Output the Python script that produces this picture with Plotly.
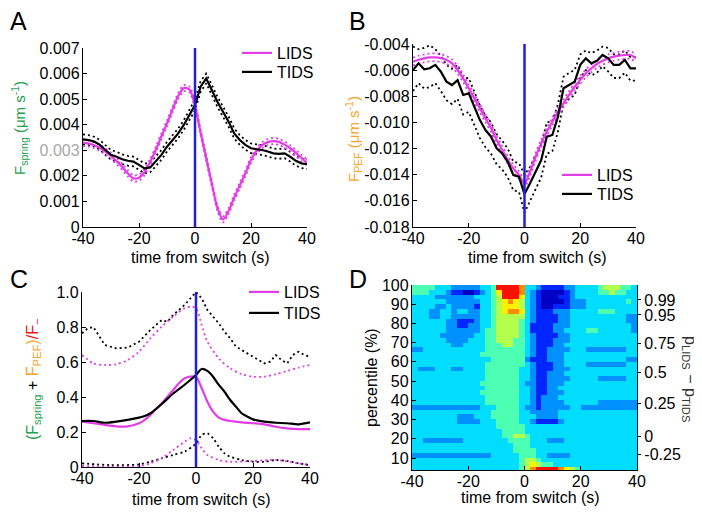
import plotly.graph_objects as go

W, H = 702, 512
OFF = 8  # the page body margin places the figure 8 px in from the window corner
FONT = "Liberation Sans, Arial, Helvetica, sans-serif"
MAGENTA = "#e23de6"
BLUE = "#2020dc"
GREEN = "#22a04b"
ORANGE = "#f5a52a"
RED = "#e3171d"

# ---------------- data ----------------
time_s = list(range(-40, 41, 2))

# Panel A: F_spring, units of 0.001 um/s
a_lids = [3.30, 3.26, 3.20, 3.10, 2.95, 2.78, 2.57, 2.35, 2.10, 1.90, 1.93, 2.15, 2.55, 3.02, 3.55, 4.05, 4.60, 5.12, 5.43, 5.38,
          4.75, 3.70, 2.70, 1.70, 0.75, 0.30, 0.62, 1.15, 1.62, 2.10, 2.62, 2.98, 3.20, 3.32, 3.36, 3.33, 3.22, 3.08, 2.90, 2.70, 2.52]
a_lids_hi = [3.43, 3.38, 3.32, 3.22, 3.07, 2.90, 2.69, 2.47, 2.22, 2.02, 2.05, 2.27, 2.67, 3.14, 3.67, 4.17, 4.72, 5.24, 5.55, 5.50,
             4.87, 3.82, 2.82, 1.82, 0.87, 0.42, 0.74, 1.27, 1.74, 2.22, 2.74, 3.10, 3.32, 3.44, 3.48, 3.45, 3.34, 3.20, 3.02, 2.82, 2.64]
a_lids_lo = [3.17, 3.14, 3.08, 2.98, 2.83, 2.66, 2.45, 2.23, 1.98, 1.78, 1.81, 2.03, 2.43, 2.90, 3.43, 3.93, 4.48, 5.00, 5.31, 5.26,
             4.63, 3.58, 2.58, 1.58, 0.63, 0.18, 0.50, 1.03, 1.50, 1.98, 2.50, 2.86, 3.08, 3.20, 3.24, 3.21, 3.10, 2.96, 2.78, 2.58, 2.40]
a_tids = [3.43, 3.40, 3.34, 3.21, 3.01, 2.82, 2.75, 2.65, 2.59, 2.56, 2.43, 2.29, 2.33, 2.56, 2.82, 3.14, 3.40, 3.66, 3.99, 4.38,
          4.77, 5.49, 5.81, 5.36, 4.90, 4.51, 4.12, 3.66, 3.40, 3.21, 3.08, 3.04, 3.01, 2.95, 2.88, 2.86, 2.88, 2.75, 2.59, 2.49, 2.46]
a_tids_hi = [3.62, 3.59, 3.53, 3.40, 3.20, 3.01, 2.94, 2.84, 2.78, 2.75, 2.62, 2.48, 2.52, 2.75, 3.01, 3.33, 3.59, 3.85, 4.18, 4.58,
             4.98, 5.70, 6.00, 5.56, 5.10, 4.71, 4.32, 3.86, 3.59, 3.40, 3.27, 3.23, 3.20, 3.14, 3.07, 3.05, 3.07, 2.94, 2.78, 2.68, 2.65]
a_tids_lo = [3.24, 3.21, 3.15, 3.02, 2.82, 2.63, 2.56, 2.46, 2.40, 2.37, 2.24, 2.10, 2.14, 2.37, 2.63, 2.95, 3.21, 3.47, 3.80, 4.18,
             4.56, 5.28, 5.62, 5.16, 4.70, 4.31, 3.92, 3.46, 3.21, 3.02, 2.89, 2.85, 2.82, 2.76, 2.69, 2.67, 2.69, 2.56, 2.40, 2.30, 2.27]

# Panel B: F_PEF, units of 0.001 um/s
b_lids = [-5.35, -5.20, -5.10, -5.03, -5.02, -5.08, -5.22, -5.48, -5.99, -6.63, -7.39, -8.16, -8.92, -9.69, -10.45, -11.35, -12.11, -12.88, -13.52, -14.03,
          -14.66, -13.77, -12.62, -11.60, -10.71, -9.94, -9.18, -8.54, -7.90, -7.27, -6.76, -6.24, -5.86, -5.53, -5.28, -5.10, -4.97, -4.89, -4.84, -4.84, -5.10]
b_lids_hi = [-5.05, -4.90, -4.80, -4.73, -4.72, -4.78, -4.92, -5.18, -5.69, -6.33, -7.09, -7.86, -8.62, -9.39, -10.15, -11.05, -11.81, -12.58, -13.22, -13.73,
             -14.36, -13.47, -12.32, -11.30, -10.41, -9.64, -8.88, -8.24, -7.60, -6.97, -6.46, -5.94, -5.56, -5.23, -4.98, -4.80, -4.67, -4.59, -4.54, -4.54, -4.80]
b_lids_lo = [-5.65, -5.50, -5.40, -5.33, -5.32, -5.38, -5.52, -5.78, -6.29, -6.93, -7.69, -8.46, -9.22, -9.99, -10.75, -11.65, -12.41, -13.18, -13.82, -14.33,
             -14.96, -14.07, -12.92, -11.90, -11.01, -10.24, -9.48, -8.84, -8.20, -7.57, -7.06, -6.54, -6.16, -5.83, -5.58, -5.40, -5.27, -5.19, -5.14, -5.14, -5.40]
b_tids = [-5.99, -5.48, -5.94, -5.86, -5.60, -6.12, -6.88, -7.14, -6.76, -7.90, -7.78, -8.80, -9.82, -10.58, -11.09, -11.98, -12.37, -13.01, -14.03, -14.15,
          -15.48, -14.66, -13.77, -12.88, -11.09, -10.96, -9.56, -7.39, -7.14, -6.88, -5.60, -5.10, -5.48, -5.28, -4.84, -5.10, -5.60, -5.60, -5.22, -5.86, -5.86]
b_tids_hi = [-4.20, -4.40, -4.30, -4.10, -4.40, -4.90, -5.60, -5.90, -5.60, -6.60, -6.60, -7.60, -8.70, -9.50, -10.00, -10.90, -11.40, -12.00, -13.00, -13.10,
             -14.00, -13.40, -12.50, -11.70, -10.00, -9.90, -8.60, -6.50, -6.20, -6.00, -4.80, -4.50, -4.70, -4.50, -4.20, -4.30, -4.80, -4.80, -4.50, -5.00, -5.00]
b_tids_lo = [-7.60, -7.00, -7.40, -7.30, -7.00, -7.60, -8.30, -8.60, -8.20, -9.40, -9.20, -10.20, -11.20, -11.90, -12.40, -13.20, -13.60, -14.20, -15.20, -15.30,
             -16.90, -16.00, -15.10, -14.20, -12.40, -12.20, -10.70, -8.50, -8.20, -7.90, -6.60, -6.00, -6.40, -6.20, -5.70, -6.10, -6.60, -6.60, -6.20, -6.80, -6.80]

# Panel C: (F_spring + F_PEF)/F_-
c_lids_t = [-40, -36, -32, -28, -24, -20, -18, -16, -14, -12, -10, -8, -6, -4, -2, 0, 2, 4, 6, 8, 10, 12, 14, 16, 20, 24, 28, 32, 36, 40]
c_lids = [0.259, 0.25, 0.24, 0.232, 0.232, 0.25, 0.269, 0.297, 0.331, 0.364, 0.402, 0.44, 0.478, 0.507, 0.516, 0.516,
          0.45, 0.373, 0.316, 0.282, 0.269, 0.263, 0.259, 0.255, 0.25, 0.244, 0.23, 0.221, 0.217, 0.217]
c_tids_t = [-40, -36, -32, -28, -24, -20, -18, -16, -12, -8, -4, -2, 0, 2, 4, 6, 8, 10, 12, 14, 16, 18, 20, 24, 28, 32, 36, 40]
c_tids = [0.263, 0.263, 0.253, 0.259, 0.269, 0.282, 0.291, 0.307, 0.36, 0.42, 0.47, 0.497, 0.526, 0.56, 0.549, 0.516,
          0.469, 0.43, 0.383, 0.345, 0.307, 0.288, 0.272, 0.259, 0.253, 0.25, 0.244, 0.255]
c_tids_hi_t = [-40, -38, -36, -34, -32, -28, -24, -20, -16, -12, -10, -8, -4, 0, 2, 4, 6, 8, 10, 12, 14, 16, 20, 24, 26, 28, 30, 32, 34, 36, 38, 40]
c_tids_hi = [0.764, 0.792, 0.80, 0.745, 0.697, 0.678, 0.682, 0.716, 0.783, 0.84, 0.83, 0.869, 0.926, 1.0, 0.964, 0.897,
             0.859, 0.821, 0.773, 0.735, 0.688, 0.669, 0.63, 0.592, 0.602, 0.64, 0.611, 0.592, 0.64, 0.659, 0.64, 0.63]
c_lids_hi_t = [-40, -36, -32, -28, -24, -20, -16, -12, -8, -4, -2, 0, 2, 4, 8, 12, 16, 20, 24, 28, 32, 36, 40]
c_lids_hi = [0.64, 0.592, 0.583, 0.587, 0.611, 0.659, 0.735, 0.802, 0.859, 0.907, 0.916, 0.907, 0.811, 0.716, 0.621,
             0.564, 0.53, 0.516, 0.516, 0.53, 0.549, 0.568, 0.583]
c_tids_lo_t = [-40, -30, -20, -16, -12, -8, -4, 0, 2, 4, 6, 8, 10, 12, 16, 20, 24, 28, 32, 36, 40]
c_tids_lo = [0.021, 0.011, 0.015, 0.03, 0.05, 0.069, 0.088, 0.135, 0.183, 0.192, 0.164, 0.116, 0.078, 0.059, 0.04,
             0.03, 0.03, 0.04, 0.034, 0.021, 0.011]
c_lids_lo_t = [-40, -30, -20, -16, -12, -8, -4, -2, 0, 2, 4, 8, 12, 20, 28, 36, 40]
c_lids_lo = [0.006, 0.002, 0.006, 0.021, 0.05, 0.097, 0.145, 0.164, 0.154, 0.107, 0.069, 0.04, 0.03, 0.034, 0.04, 0.021, 0.011]

# Panel D: heat map levels (0 = dark blue ... 9 = dark red), rows from top (100 %) to bottom
d_time_bins = list(range(-39, 40, 2))
d_percentile_bins = [3.75 + 2.5 * i for i in range(39)]
d_level_values = [0.06, 0.15, 0.26, 0.34, 0.45, 0.55, 0.64, 0.74, 0.86, 0.95]
d_rows_top_to_bottom = [
    "4444333222223348888733211112233334555443",
    "4443332110012346888732100001233334454433",
    "3333222222233345888632100011233333333333",
    "3333332222223345676532100001222333333343",
    "3333223222213345666532100111222333333333",
    "3332233233223345677632111222333334443333",
    "3332233222223345555532111122333333333322",
    "3333332211123345555432111122333333333322",
    "3333332211223345555431111222333333333332",
    "3333332222223445555431111223333443333332",
    "3333322222233445555432111122333333333333",
    "3333332222333445554432111222333333333333",
    "3333333223333444554432111223333333333333",
    "2233333333333444444432112222333222222233",
    "3333333333334444444432112223333333333333",
    "3333333333333344444421112223333333333322",
    "3333333333333444444432111223333222222233",
    "3222333223333444444332111222333333333333",
    "3333333333333444444332112223333333333333",
    "3333333333333444444332112222333332222233",
    "3333333333334444444322112223333333333333",
    "3333333333333444444332112233333333333333",
    "3333333333334444444332112223333333333333",
    "3333333333333444444332122233333333333333",
    "3333333333333444444332122223333332222222",
    "2222222222223334444322122222332222222222",
    "3333333333333344444332222233333333333333",
    "3333333322233344444333222233333333333333",
    "3333333322223334444332111123333333333333",
    "3333333333333334444433333333333333333333",
    "3333333333333333444433333333333333333333",
    "3333333333333333445543333333333333333333",
    "3322222223333333344443332223333333333333",
    "3333333333333333334443333333333333333333",
    "3333333333333333334444333333333333333333",
    "2222222222222233333444332222333333333333",
    "3333333333333333333455433333333333333333",
    "3333333333333333333456544333333333333333",
    "3333333333333333333457888876543333333333",
]

time_ticks = [-40, -20, 0, 20, 40]
time_ticktext = ["-40", "-20", "0", "20", "40"]
a_tickvals = [0, 1, 2, 3, 4, 5, 6, 7]
a_ticktext = ["0", "0.001", "0.002", "<span style='color:#a8a8a8'>0.003</span>", "0.004", "0.005", "0.006", "0.007"]
b_tickvals = [-18, -16, -14, -12, -10, -8, -6, -4]
b_ticktext = ["-0.018", "-0.016", "-0.014", "-0.012", "-0.010", "-0.008", "-0.006", "-0.004"]
c_tickvals = [0, 0.2, 0.4, 0.6, 0.8, 1.0]
c_ticktext = ["0", "0.2", "0.4", "0.6", "0.8", "1.0"]
d_tickvals = [10, 20, 30, 40, 50, 60, 70, 80, 90, 100]
d_right_tickvals = [92.2, 84.4, 69.8, 54.7, 38.5, 21.4, 12.0]
d_right_ticktext = ["0.99", "0.95", "0.75", "0.5", "0.25", "0", "-0.25"]

# ---------------- figure ----------------
def px(x):
    return (x - OFF) / W


def py(y):
    return 1 - (y - OFF) / H


fig = go.Figure()


def add_line(x, y, xa, ya, color, dotted=False, name=None, legend=None, shape="linear"):
    fig.add_trace(go.Scatter(
        x=x, y=y, xaxis=xa, yaxis=ya, mode="lines",
        line=dict(color=color, width=1.8 if dotted else 2.2,
                  dash="2px,3px" if dotted else "solid", shape=shape, smoothing=0.8),
        name=name, showlegend=name is not None, legend=legend, hoverinfo="skip"))


# Panel A
add_line(time_s, a_tids_hi, "x", "y", "black", True)
add_line(time_s, a_tids_lo, "x", "y", "black", True)
add_line(time_s, a_lids_hi, "x", "y", MAGENTA, True, shape="spline")
add_line(time_s, a_lids_lo, "x", "y", MAGENTA, True, shape="spline")
add_line(time_s, a_lids, "x", "y", MAGENTA, name="LIDS", legend="legend", shape="spline")
add_line(time_s, a_tids, "x", "y", "black", name="TIDS", legend="legend2")

# Panel B
add_line(time_s, b_tids_hi, "x2", "y2", "black", True)
add_line(time_s, b_tids_lo, "x2", "y2", "black", True)
add_line(time_s, b_lids_hi, "x2", "y2", MAGENTA, True, shape="spline")
add_line(time_s, b_lids_lo, "x2", "y2", MAGENTA, True, shape="spline")
add_line(time_s, b_lids, "x2", "y2", MAGENTA, name="LIDS", legend="legend3", shape="spline")
add_line(time_s, b_tids, "x2", "y2", "black", name="TIDS", legend="legend4")

# Panel C
add_line(c_tids_hi_t, c_tids_hi, "x3", "y3", "black", True)
add_line(c_tids_lo_t, c_tids_lo, "x3", "y3", "black", True, shape="spline")
add_line(c_lids_hi_t, c_lids_hi, "x3", "y3", MAGENTA, True, shape="spline")
add_line(c_lids_lo_t, c_lids_lo, "x3", "y3", MAGENTA, True, shape="spline")
add_line(c_lids_t, c_lids, "x3", "y3", MAGENTA, name="LIDS", legend="legend5", shape="spline")
add_line(c_tids_t, c_tids, "x3", "y3", "black", name="TIDS", legend="legend6", shape="spline")

# Panel D
d_z = [[d_level_values[int(ch)] for ch in row] for row in reversed(d_rows_top_to_bottom)]
jet = [[0.0, "#00007f"], [0.11, "#0000ff"], [0.375, "#00ffff"], [0.625, "#ffff00"],
       [0.875, "#ff0000"], [1.0, "#7f0000"]]
fig.add_trace(go.Heatmap(x=d_time_bins, y=d_percentile_bins, z=d_z, xaxis="x4", yaxis="y4",
                         colorscale=jet, zmin=0, zmax=1, showscale=False, hoverinfo="skip"))
fig.add_trace(go.Scatter(x=[None], y=[None], xaxis="x4", yaxis="y5", showlegend=False, hoverinfo="skip"))

tickfont = dict(family=FONT, size=16, color="black")
common = dict(showline=True, linecolor="black", linewidth=1.3, ticks="inside", ticklen=4,
              tickwidth=1, tickcolor="black", showgrid=False, zeroline=False, tickfont=tickfont,
              automargin=False)

xt = dict(tickvals=time_ticks, ticktext=time_ticktext, range=[-40, 40], ticklabelstandoff=-3)
layout = dict(
    width=W, height=H, margin=dict(l=0, r=0, t=0, b=0, pad=0, autoexpand=False),
    paper_bgcolor="white", plot_bgcolor="white",
    font=dict(family=FONT, size=16, color="black"),
    xaxis=dict(domain=[px(83), px(307)], anchor="y", **xt, **common),
    yaxis=dict(domain=[py(227), py(48)], anchor="x", range=[0, 7], tickvals=a_tickvals, ticktext=a_ticktext,
               ticklabelstandoff=-1, **common),
    xaxis2=dict(domain=[px(413), px(636)], anchor="y2", **xt, **common),
    yaxis2=dict(domain=[py(227), py(44)], anchor="x2", range=[-18, -4], tickvals=b_tickvals, ticktext=b_ticktext,
                ticklabelstandoff=-1, **common),
    xaxis3=dict(domain=[px(82), px(310)], anchor="y3", **xt, **common),
    yaxis3=dict(domain=[py(467), py(292)], anchor="x3", range=[0, 1], tickvals=c_tickvals, ticktext=c_ticktext,
                ticklabelstandoff=-1, **common),
    xaxis4=dict(domain=[px(412), px(637)], anchor="y4", **xt, **common),
    yaxis4=dict(domain=[py(470), py(285)], anchor="x4", range=[3.76, 100], tickvals=d_tickvals,
                ticklabelstandoff=-1, **common),
    yaxis5=dict(overlaying="y4", side="right", anchor="x4", range=[3.76, 100],
                tickvals=d_right_tickvals, ticktext=d_right_ticktext, automargin=False,
                showline=True, linecolor="black", linewidth=1.3, ticks="outside", ticklen=3,
                tickcolor="black", showgrid=False, zeroline=False, tickfont=tickfont),
    showlegend=True,
)
leg = dict(xanchor="left", yanchor="middle", bgcolor="rgba(0,0,0,0)", font=dict(family=FONT, size=16),
           tracegroupgap=0, itemwidth=30)
# legend text starts about 41 px right of the legend box edge
for key, text_x, row_y in [("legend", 278, 53), ("legend2", 278, 72),
                           ("legend3", 598, 175), ("legend4", 598, 194),
                           ("legend5", 285, 292), ("legend6", 285, 313)]:
    layout[key] = dict(x=px(text_x - 41), y=py(row_y), **leg)

shapes = []
for xr, yr in [("x", "y"), ("x2", "y2"), ("x3", "y3")]:
    shapes.append(dict(type="line", xref=xr, yref=yr + " domain", x0=0, x1=0, y0=0, y1=1,
                       line=dict(color=BLUE, width=2.5), layer="above"))
layout["shapes"] = shapes

ann = []
def note(text, x, y, size=16, angle=0, color="black", xanchor="center", yanchor="middle"):
    ann.append(dict(text=text, x=px(x), y=py(y), xref="paper", yref="paper", showarrow=False,
                    textangle=angle, xanchor=xanchor, yanchor=yanchor,
                    font=dict(family=FONT, size=size, color=color)))

for letter, lx, ly in [("A", 8, 21), ("B", 347, 21), ("C", 8, 279), ("D", 347, 279)]:
    note(letter, lx, ly, size=25, xanchor="left")

note("F<sub>spring</sub> (μm s<sup>-1</sup>)", 19, 128, size=15, angle=-90, color=GREEN)
note("F<sub>PEF</sub> (μm s<sup>-1</sup>)", 353, 139, size=15, angle=-90, color=ORANGE)
note("<span style='color:%s'>(F<sub>spring</sub></span> + <span style='color:%s'>F<sub>PEF</sub>)</span>"
     "<span style='color:%s'>/F<sub>−</sub></span>" % (GREEN, ORANGE, RED), 33, 380, size=16, angle=-90)
note("percentile (%)", 371, 378, angle=-90)
note("p<sub>LIDS</sub> − p<sub>TIDS</sub>", 690, 379, angle=90, color="#333333")
for tx, ty in [(200, 257), (537, 257), (201, 499), (530, 497)]:
    note("time from switch (s)", tx, ty)
layout["annotations"] = ann

fig.update_layout(**layout)
fig.write_html("out.html")
